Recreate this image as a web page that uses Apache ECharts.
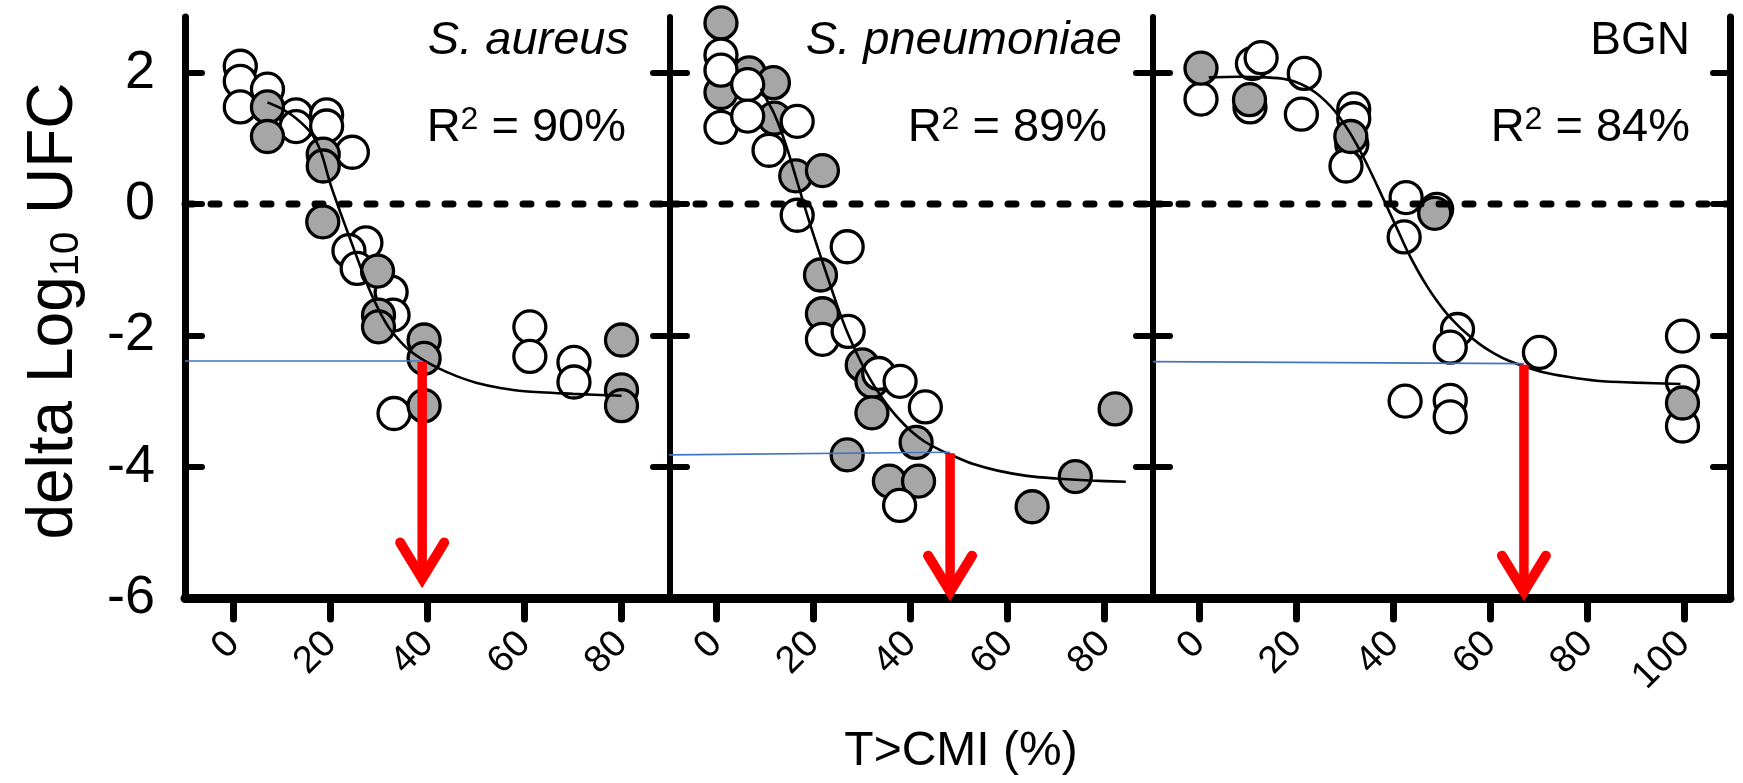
<!DOCTYPE html>
<html>
<head>
<meta charset="utf-8">
<script src="https://cdn.jsdelivr.net/npm/echarts@6/dist/echarts.min.js"></script>
<style>html,body{margin:0;padding:0;background:#fff}#c{width:1743px;height:783px}</style>
</head>
<body>
<div id="c"></div>
<script>
// ---------------- data ----------------
const panelNames = ['S. aureus', 'S. pneumoniae', 'BGN'];
const r2Values = ['90%', '89%', '84%'];
const yTicks = [-6, -4, -2, 0, 2];
const xTicks12 = [0, 20, 40, 60, 80];
const xTicks3 = [0, 20, 40, 60, 80, 100];
const yTitle = 'delta Log';
const yTitleSub = '10';
const yTitleEnd = ' UFC';
const xTitle = 'T>CMI (%)';
const zeroLevel = 0;

// S. aureus
const saOpen = [[1.4,2.10],[1.4,1.87],[1.4,1.48],[7.0,1.75],[12.9,1.36],[12.9,1.18],[19.2,1.36],[19.2,1.19],[24.5,0.79],[27.3,-0.59],[23.8,-0.71],[25.5,-0.98],[32.5,-1.34],[32.9,-1.69],[33.1,-3.19],[61.1,-1.87],[61.1,-2.32],[70.2,-2.41],[70.2,-2.71]];
const saFilled = [[7.0,1.48],[7.0,1.03],[18.5,0.76],[18.5,0.58],[18.4,-0.27],[29.7,-1.02],[29.9,-1.69],[29.9,-1.87],[39.3,-2.07],[39.3,-2.35],[39.3,-3.07],[80.0,-2.07],[80.0,-2.83],[80.0,-3.07]];
const saFit = [[7,1.55],[10,1.45],[13,1.30],[16,1.08],[18,0.80],[20,0.30],[22,-0.12],[24,-0.52],[26,-0.92],[28,-1.30],[30,-1.62],[32,-1.88],[34,-2.06],[36,-2.21],[39,-2.37],[42,-2.49],[46,-2.62],[50,-2.72],[55,-2.80],[60,-2.85],[70,-2.89],[80,-2.92]];
const saThresh = [[-10,-2.39],[38.9,-2.39]];
const saArrow = [[38.9,-2.39,-5.85]];

// S. pneumoniae
const spOpen = [[1.0,2.27],[1.0,2.04],[1.0,1.17],[6.5,1.82],[6.5,1.34],[10.9,0.82],[16.7,1.26],[16.7,-0.17],[27.0,-0.65],[21.9,-2.06],[27.2,-1.94],[33.5,-2.58],[37.9,-2.70],[43.1,-3.09],[37.8,-4.59]];
const spFilled = [[1.0,2.76],[1.0,1.70],[6.8,2.00],[11.8,1.85],[12.0,1.31],[16.4,0.43],[21.9,0.51],[21.5,-1.08],[21.9,-1.67],[30.1,-2.45],[32.1,-2.70],[32.1,-3.18],[41.2,-3.63],[27.0,-3.82],[35.7,-4.22],[41.7,-4.22],[65.1,-4.61],[74.0,-4.15],[82.2,-3.12]];
const spFit = [[9.2,1.76],[10.5,1.58],[12,1.37],[13.5,1.09],[15,0.76],[16.5,0.39],[18,0.02],[19.5,-0.34],[21,-0.68],[22.5,-1.01],[24,-1.34],[25.5,-1.66],[27,-1.95],[28.5,-2.20],[30,-2.43],[32,-2.70],[34,-2.93],[36,-3.13],[38,-3.30],[40.5,-3.48],[43,-3.62],[46,-3.74],[49,-3.84],[53,-3.96],[58,-4.06],[64,-4.14],[70,-4.18],[77,-4.21],[84.4,-4.23]];
const spThresh = [[-11,-3.82],[48.2,-3.78]];
const spArrow = [[48.2,-3.78,-6.05]];

// BGN
const bgnOpen = [[0.4,1.60],[10.5,1.48],[11.0,2.14],[12.8,2.23],[21.7,1.99],[21.1,1.37],[31.9,1.45],[31.9,1.30],[31.5,0.91],[30.3,0.58],[42.7,0.10],[42.3,-0.50],[49.0,-0.08],[53.3,-1.91],[51.8,-2.18],[70.2,-2.26],[42.5,-3.00],[51.8,-2.99],[51.8,-3.24],[99.7,-2.01],[99.7,-2.71],[99.7,-3.38]];
const bgnFilled = [[0.4,2.07],[10.4,1.59],[31.3,1.03],[48.6,-0.14],[99.7,-3.03]];
const bgnFit = [[2,1.93],[8,1.94],[14,1.93],[18,1.90],[21,1.83],[24,1.70],[27,1.50],[29,1.32],[31,1.10],[33,0.84],[35,0.55],[37,0.24],[39,-0.08],[41,-0.40],[43,-0.72],[45,-1.00],[47,-1.25],[49,-1.47],[51,-1.66],[53,-1.82],[55,-1.96],[58,-2.14],[61,-2.28],[64,-2.39],[67,-2.47],[71,-2.56],[76,-2.63],[82,-2.69],[90,-2.72],[99.3,-2.74]];
const bgnThresh = [[-9.5,-2.40],[67.0,-2.43]];
const bgnArrow = [[67.0,-2.43,-6.05]];

const xRanges = [[-10, 90], [-9.5, 90], [-9.5, 109.5]];
const yRange = [-6, 2.85];

// ---------------- layout / style ----------------
const FONT = 'Liberation Sans';
const grids = [
  {left: 185, top: 17, width: 485, height: 581},
  {left: 670, top: 17, width: 483, height: 581},
  {left: 1153, top: 17, width: 577, height: 581}
];
const GRAY = '#A6A6A6';
const RED = '#FF0000';
const BLUE = '#4472C4';

const panels = [
  {open: saOpen, filled: saFilled, fit: saFit, thresh: saThresh, arrow: saArrow, xTicks: xTicks12, openZ: 3, filledZ: 4},
  {open: spOpen, filled: spFilled, fit: spFit, thresh: spThresh, arrow: spArrow, xTicks: xTicks12, openZ: 4, filledZ: 3},
  {open: bgnOpen, filled: bgnFilled, fit: bgnFit, thresh: bgnThresh, arrow: bgnArrow, xTicks: xTicks3, openZ: 3, filledZ: 4}
];

const xAxes = [], yAxes = [], series = [];
panels.forEach((p, i) => {
  xAxes.push({
    type: 'value', gridIndex: i, position: 'bottom',
    min: xRanges[i][0], max: xRanges[i][1],
    axisLine: {onZero: false, lineStyle: {color: '#000', width: 9, cap: 'round'}},
    axisTick: {inside: false, length: 21, customValues: p.xTicks, lineStyle: {color: '#000', width: 7, cap: 'round'}},
    axisLabel: {customValues: p.xTicks, rotate: 45, margin: 40, fontSize: 38, color: '#000', fontFamily: FONT},
    splitLine: {show: false}
  });
  const leftLine = (i === 0);
  const rightWidth = (i === 2) ? 7 : 6;
  yAxes.push({
    type: 'value', gridIndex: i, position: 'left',
    min: yRange[0], max: yRange[1],
    axisLine: {show: leftLine, onZero: false, lineStyle: {color: '#000', width: 7, cap: 'round'}},
    axisTick: {show: true, inside: true, length: 17, customValues: yTicks, lineStyle: {color: '#000', width: 6, cap: 'round'}},
    axisLabel: {show: i === 0, customValues: yTicks, margin: 30, fontSize: 54, color: '#000', fontFamily: FONT},
    splitLine: {show: false}
  });
  yAxes.push({
    type: 'value', gridIndex: i, position: 'right',
    min: yRange[0], max: yRange[1],
    axisLine: {show: true, onZero: false, lineStyle: {color: '#000', width: rightWidth, cap: 'round'}},
    axisTick: {show: true, inside: true, length: 17, customValues: yTicks, lineStyle: {color: '#000', width: 6, cap: 'round'}},
    axisLabel: {show: false},
    splitLine: {show: false}
  });
  const yi = i * 2;
  series.push({
    type: 'scatter', xAxisIndex: i, yAxisIndex: yi, data: p.filled, z: p.filledZ,
    symbol: 'circle', symbolSize: 32,
    itemStyle: {color: GRAY, borderColor: '#000', borderWidth: 3.3, opacity: 1},
    emphasis: {disabled: true}, silent: true
  });
  series.push({
    type: 'scatter', xAxisIndex: i, yAxisIndex: yi, data: p.open, z: p.openZ,
    symbol: 'circle', symbolSize: 32,
    itemStyle: {color: '#fff', borderColor: '#000', borderWidth: 3.3, opacity: 1},
    emphasis: {disabled: true}, silent: true
  });
  series.push({
    type: 'line', xAxisIndex: i, yAxisIndex: yi, data: p.fit, z: 5,
    smooth: 0.3, showSymbol: false, symbol: 'none',
    lineStyle: {color: '#000', width: 2.6}, silent: true
  });
  series.push({
    type: 'line', xAxisIndex: i, yAxisIndex: yi,
    data: [[xRanges[i][0], zeroLevel], [xRanges[i][1], zeroLevel]], z: 6,
    showSymbol: false, symbol: 'none',
    lineStyle: {color: '#000', width: 7, type: [8, 18], cap: 'round'}, silent: true
  });
  series.push({
    type: 'line', xAxisIndex: i, yAxisIndex: yi, data: p.thresh, z: 7, clip: false,
    showSymbol: false, symbol: 'none',
    lineStyle: {color: BLUE, width: 1.6}, silent: true
  });
  series.push({
    type: 'custom', xAxisIndex: i, yAxisIndex: yi, data: p.arrow, z: 8,
    encode: {x: 0, y: [1, 2]}, silent: true, clip: false,
    renderItem: function (params, api) {
      const x = api.value(0), top = api.value(1), tip = api.value(2);
      const pTop = api.coord([x, top]);
      const pTip = api.coord([x, tip]);
      const vy = pTip[1] - 9.6;
      return {
        type: 'group',
        children: [
          {type: 'line', shape: {x1: pTop[0], y1: pTop[1] + 1, x2: pTop[0], y2: vy - 4},
           style: {stroke: RED, lineWidth: 9.5, lineCap: 'butt'}},
          {type: 'polyline', shape: {points: [[pTip[0] - 22, vy - 36], [pTip[0], vy], [pTip[0] + 22, vy - 36]]},
           style: {stroke: RED, fill: null, lineWidth: 10, lineCap: 'round', lineJoin: 'miter', miterLimit: 10}}
        ]
      };
    }
  });
});

const nameFont = 'italic 47px "Liberation Sans"';
const r2Rich = {sup: {fontSize: 32, fontFamily: FONT, fill: '#000', lineHeight: 30, verticalAlign: 'top'}};
function r2Text(v) { return 'R{sup|2} = ' + v; }
function r2Style(v) {
  return {text: r2Text(v), fontSize: 47, fontFamily: FONT, lineHeight: 47, fill: '#000',
          align: 'right', verticalAlign: 'middle', rich: r2Rich};
}
const textGraphics = [
  {type: 'text', x: 629, y: 41, style: {text: panelNames[0], font: nameFont, fill: '#000', align: 'right', verticalAlign: 'middle'}},
  {type: 'text', x: 626, y: 128, style: r2Style(r2Values[0])},
  {type: 'text', x: 1122, y: 41, style: {text: panelNames[1], font: nameFont, fill: '#000', align: 'right', verticalAlign: 'middle'}},
  {type: 'text', x: 1107, y: 128, style: r2Style(r2Values[1])},
  {type: 'text', x: 1690, y: 41, style: {text: panelNames[2], font: '46px "Liberation Sans"', fill: '#000', align: 'right', verticalAlign: 'middle'}},
  {type: 'text', x: 1690, y: 128, style: r2Style(r2Values[2])},
  {type: 'text', x: 961, y: 752, style: {text: xTitle, font: '48px "Liberation Sans"', fill: '#000', align: 'center', verticalAlign: 'middle'}},
  {type: 'text', x: 54, y: 311, rotation: Math.PI / 2,
   style: {text: yTitle + '{sub|' + yTitleSub + '}' + yTitleEnd, font: '64px "Liberation Sans"', fill: '#000',
           align: 'center', verticalAlign: 'middle', lineHeight: 66,
           rich: {sub: {fontSize: 40, fontFamily: FONT, fill: '#000', lineHeight: 12, verticalAlign: 'bottom'}}}}
];

const chart = echarts.init(document.getElementById('c'), null, {renderer: 'canvas'});
chart.setOption({
  animation: false,
  backgroundColor: '#fff',
  textStyle: {fontFamily: FONT},
  grid: grids,
  xAxis: xAxes,
  yAxis: yAxes,
  series: series,
  graphic: textGraphics
});
</script>
</body>
</html>
